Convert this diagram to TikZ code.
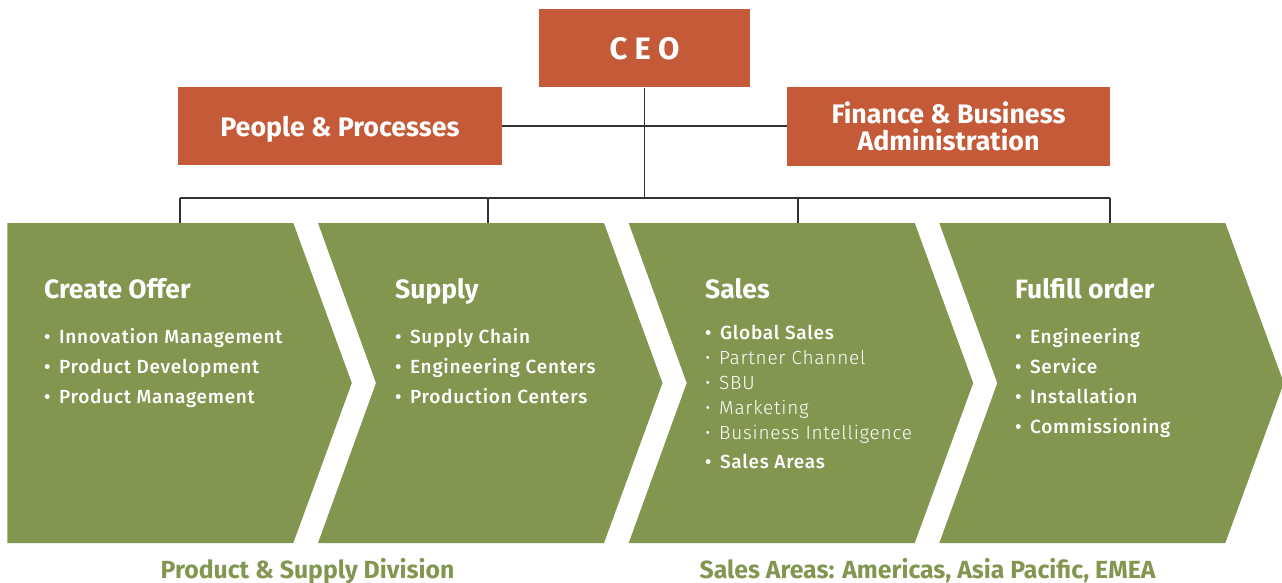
\documentclass[tikz,border=0pt]{standalone}
\usepackage{fontspec}
\setmainfont{Fira Sans}
\newfontfamily\headface{Fira Sans Bold}
\newfontfamily\itemface{Fira Sans Medium}[LetterSpace=4]
\newfontfamily\lightface{Fira Sans Light}[LetterSpace=4]
\newfontfamily\ceoface{Fira Sans Bold}[LetterSpace=24]

\definecolor{bossorange}{RGB}{196,90,55}
\definecolor{stagegreen}{RGB}{131,150,80}
\definecolor{linkgray}{RGB}{50,50,50}

\newcommand\dotitem[1]{•\hspace{8.5pt}#1}

\begin{document}
\begin{tikzpicture}[x=1pt,y=-1pt,
  box/.style={fill=bossorange, text=white, inner sep=0pt, align=center},
  link/.style={draw=linkgray, line width=1.1pt},
  stage/.style={fill=stagegreen},
  title/.style={anchor=base west, text=white, inner sep=0pt,
    font=\headface\fontsize{26.5}{30}\selectfont},
  item/.style={anchor=base west, text=white, inner sep=0pt,
    font=\itemface\fontsize{19}{24}\selectfont},
  lightitem/.style={item, font=\lightface\fontsize{19}{24}\selectfont},
  caption/.style={anchor=base, text=stagegreen, inner sep=0pt,
    font=\headface\fontsize{24.8}{27}\selectfont}]

\useasboundingbox (0,0) rectangle (1282,583);

% management boxes
\node[box, minimum width=211pt, minimum height=78pt,
  font=\ceoface\fontsize{31}{34}\selectfont] (ceo) at (644.5,48.5) {CEO};
\node[box, minimum width=324pt, minimum height=78pt, text depth=0pt,
  font=\headface\fontsize{26.8}{27}\selectfont] (people) at (340,126) {People \& Processes};
\node[box, minimum width=323pt, minimum height=78pt, text depth=0pt,
  font=\headface\fontsize{26.8}{27}\selectfont] (finance) at (948.5,126.5)
  {Finance \& Business\\Administration};

% process chevrons: x of top-left corner / depth of the left notch / x of the feed line
\foreach \i/\x/\n/\f in {1/7.3/0/180, 2/318/58/488, 3/628.7/58/798, 4/939.3/58/1110} {
  \fill[stage] (\x,223) -- ++(286,0) -- ++(58.5,160) -- ++(-58.5,160)
    -- (\x,543) -- ++(\n,-160) -- cycle;
  \coordinate (top\i) at (\f,223);
  \coordinate (bus\i) at (\f,198);
}

% reporting lines
\draw[link] (people.east) -- (people.east -| finance.west);
\draw[link] (ceo.south) -- (ceo.south |- bus1);
\draw[link] (bus1) -- (bus4);
\foreach \i in {1,...,4} \draw[link] (bus\i) -- (top\i);

% stage titles
\node[title] (t1) at (44,298) {Create Offer};
\node[title] (t2) at (395,298) {Supply};
\node[title] (t3) at (705,298) {Sales};
\node[title] (t4) at (1015,298) {Fulfill order};

% stage contents
\foreach \k/\txt in {1/Innovation Management, 2/Product Development, 3/Product Management}
  \node[item] (a\k) at (44,313.3+30*\k) {\dotitem{\txt}};
\foreach \k/\txt in {1/Supply Chain, 2/Engineering Centers, 3/Production Centers}
  \node[item] (b\k) at (395,313.3+30*\k) {\dotitem{\txt}};
\node[item] (c1) at (705,339.3) {\dotitem{Global Sales}};
\foreach \k/\txt in {2/Partner Channel, 3/SBU, 4/Marketing, 5/Business Intelligence}
  \node[lightitem] (c\k) at (705,314.3+25*\k) {\dotitem{\txt}};
\node[item] (c6) at (705,468.3) {\dotitem{Sales Areas}};
\foreach \k/\txt in {1/Engineering, 2/Service, 3/Installation, 4/Commissioning}
  \node[item] (d\k) at (1015,313.3+30*\k) {\dotitem{\txt}};

% division captions
\node[caption] (div1) at (307.5,578) {Product \& Supply Division};
\node[caption] (div2) at (927.5,578) {Sales Areas: Americas, Asia Pacific, EMEA};
\end{tikzpicture}
\end{document}
